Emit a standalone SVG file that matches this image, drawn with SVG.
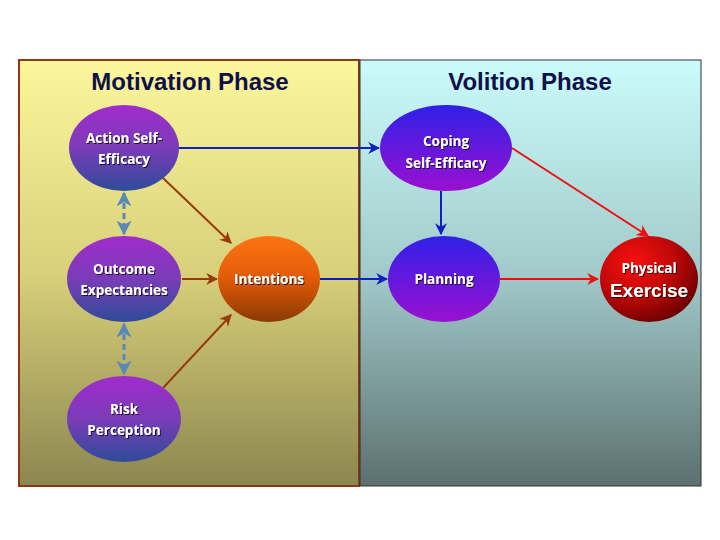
<svg xmlns="http://www.w3.org/2000/svg" width="720" height="540" viewBox="0 0 720 540">
<defs>
<linearGradient id="gl" x1="0" y1="0" x2="0" y2="1"><stop offset="0" stop-color="#fbf79c"/><stop offset="0.5" stop-color="#d8d07a"/><stop offset="1" stop-color="#8c8650"/></linearGradient>
<linearGradient id="gr" x1="0" y1="0" x2="0" y2="1"><stop offset="0" stop-color="#cbfbfb"/><stop offset="0.5" stop-color="#a2caca"/><stop offset="1" stop-color="#5c7070"/></linearGradient>
<linearGradient id="gp" x1="0" y1="0" x2="0" y2="1"><stop offset="0" stop-color="#a02ccc"/><stop offset="0.5" stop-color="#7a3cb8"/><stop offset="1" stop-color="#2e4c98"/></linearGradient>
<linearGradient id="gb" x1="0" y1="0" x2="0" y2="1"><stop offset="0" stop-color="#3020e8"/><stop offset="1" stop-color="#9a10d0"/></linearGradient>
<linearGradient id="go" x1="0" y1="0" x2="0" y2="1"><stop offset="0" stop-color="#ff7412"/><stop offset="0.5" stop-color="#e05a08"/><stop offset="1" stop-color="#8a3a02"/></linearGradient>
<radialGradient id="gx" cx="0.35" cy="0.3" r="0.8"><stop offset="0" stop-color="#f81010"/><stop offset="0.5" stop-color="#c00808"/><stop offset="1" stop-color="#600000"/></radialGradient>
<marker id="ab" viewBox="0 0 10 10" refX="9" refY="5" markerWidth="6" markerHeight="6" orient="auto-start-reverse"><path d="M0,0 L10,5 L0,10 L3,5 z" fill="#1020c0"/></marker>
<marker id="ar" viewBox="0 0 10 10" refX="9" refY="5" markerWidth="6" markerHeight="6" orient="auto-start-reverse"><path d="M0,0 L10,5 L0,10 L3,5 z" fill="#ee1010"/></marker>
<marker id="an" viewBox="0 0 10 10" refX="9" refY="5" markerWidth="6" markerHeight="6" orient="auto-start-reverse"><path d="M0,0 L10,5 L0,10 L3,5 z" fill="#9a3a08"/></marker>
<marker id="ad" viewBox="0 0 10 10" refX="9" refY="5" markerWidth="5" markerHeight="5" orient="auto-start-reverse"><path d="M0,0 L10,5 L0,10 L3,5 z" fill="#5a88b8"/></marker>
<filter id="sh" x="-20%" y="-20%" width="140%" height="140%"><feDropShadow dx="1" dy="1" stdDeviation="0.6" flood-color="#000" flood-opacity="0.8"/></filter>
</defs>
<style>
.t{font-family:"Open Sans","Liberation Sans",sans-serif;font-weight:bold;font-size:13.5px;fill:#fff;text-anchor:middle;filter:url(#sh)}
.h{font-family:"Liberation Sans",Arial,sans-serif;font-weight:bold;font-size:24px;fill:#10104a;text-anchor:middle}
.cb{stroke:#1020c0;stroke-width:2;fill:none;marker-end:url(#ab)}
.cr{stroke:#ee1010;stroke-width:2;fill:none;marker-end:url(#ar)}
.cn{stroke:#9a3a08;stroke-width:2;fill:none;marker-end:url(#an)}
.cd{stroke:#5a88b8;stroke-width:3;stroke-dasharray:6,4;fill:none;marker-end:url(#ad);marker-start:url(#ad)}
</style>
<rect x="0" y="0" width="720" height="540" fill="#fff"/>
<g id="panels">
<rect x="19" y="60" width="340" height="426" fill="url(#gl)" stroke="#8a3a10" stroke-width="2"/>
<rect x="360" y="60" width="341" height="426" fill="url(#gr)" stroke="#303030" stroke-width="1"/>
<text class="h" x="190" y="90">Motivation Phase</text>
<text class="h" x="530" y="90">Volition Phase</text>
</g>
<g id="connectors">
<line class="cb" x1="179" y1="148" x2="379" y2="148"/>
<line class="cb" x1="320" y1="279" x2="387" y2="279"/>
<line class="cb" x1="441" y1="191" x2="441" y2="234"/>
<line class="cr" x1="500" y1="279" x2="598" y2="279"/>
<line class="cr" x1="512" y1="148" x2="648" y2="236"/>
<line class="cn" x1="163" y1="178" x2="231" y2="243"/>
<line class="cn" x1="182" y1="279" x2="217" y2="279"/>
<line class="cn" x1="163" y1="388" x2="231" y2="315"/>
<line class="cd" x1="124" y1="193" x2="124" y2="234"/>
<line class="cd" x1="124" y1="324" x2="124" y2="374"/>
</g>
<g id="ase"><ellipse cx="124" cy="148" rx="55" ry="43" fill="url(#gp)"/><text class="t" x="124" y="143">Action Self-</text><text class="t" x="124" y="164">Efficacy</text></g>
<g id="oe"><ellipse cx="124" cy="279" rx="57" ry="43" fill="url(#gp)"/><text class="t" x="124" y="274">Outcome</text><text class="t" x="124" y="295">Expectancies</text></g>
<g id="rp"><ellipse cx="124" cy="419" rx="57" ry="43" fill="url(#gp)"/><text class="t" x="124" y="414">Risk</text><text class="t" x="124" y="435">Perception</text></g>
<g id="int"><ellipse cx="269" cy="279" rx="51" ry="43" fill="url(#go)"/><text class="t" x="269" y="284">Intentions</text></g>
<g id="cse"><ellipse cx="446" cy="148" rx="66" ry="43" fill="url(#gb)"/><text class="t" x="446" y="146">Coping</text><text class="t" x="446" y="168">Self-Efficacy</text></g>
<g id="plan"><ellipse cx="444" cy="279" rx="56" ry="43" fill="url(#gb)"/><text class="t" x="444" y="284">Planning</text></g>
<g id="pe"><ellipse cx="649" cy="279" rx="49" ry="43" fill="url(#gx)"/><text class="t" x="649" y="273">Physical</text><text class="t" x="649" y="297" style="font-family:'Liberation Sans',Arial,sans-serif;font-size:19px">Exercise</text></g>
</svg>
